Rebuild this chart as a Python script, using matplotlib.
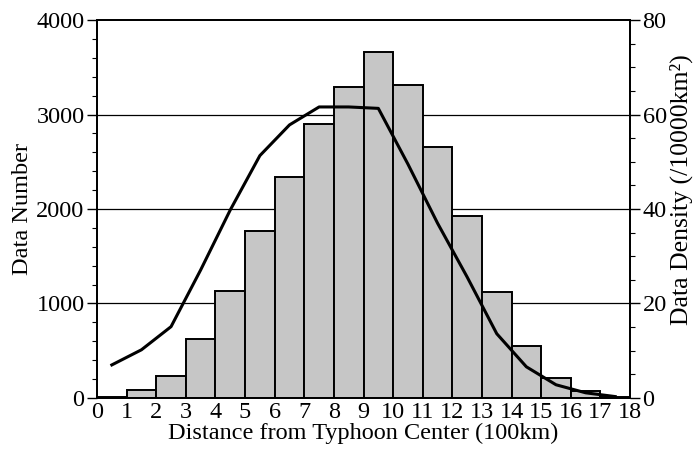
import numpy as np
import matplotlib.pyplot as plt
from matplotlib.ticker import MultipleLocator

plt.rcParams['font.family'] = ['Liberation Serif', 'DejaVu Serif']

# --- data ---
bin_left = np.arange(0, 18)
counts = [15, 85, 233, 625, 1132, 1767, 2338, 2900, 3291, 3665,
          3315, 2656, 1926, 1122, 550, 212, 74, 8]

dens_x = [0.5, 1.5, 2.5, 3.5, 4.5, 5.5, 6.5, 7.5, 8.5, 9.5,
          10.5, 11.5, 12.5, 13.5, 14.5, 15.5, 16.5, 17.5]
density = [7.0, 10.2, 15.1, 27.1, 39.8, 51.3, 57.8, 61.6, 61.6, 61.3,
           49.5, 37.0, 25.6, 13.6, 6.6, 2.8, 1.1, 0.3]

FS = 17.5

fig = plt.figure(figsize=(6.94, 4.55), dpi=100)
ax = fig.add_axes([0.1398, 0.1253, 0.7680, 0.8307])

for yv in [1000, 2000, 3000]:
    ax.axhline(yv, color='black', linewidth=0.9, zorder=0)

ax.bar(bin_left, counts, width=1.0, align='edge', color='#c6c6c6',
       edgecolor='black', linewidth=1.4, zorder=2)

ax.set_xlim(0, 18)
ax.set_ylim(0, 4000)
ax.set_xticks(range(0, 19))
ax.set_yticks([0, 1000, 2000, 3000, 4000])
ax.yaxis.set_minor_locator(MultipleLocator(200))
ax.tick_params(axis='y', which='major', length=7, width=1.0, labelsize=FS, pad=2)
ax.tick_params(axis='y', which='minor', length=3.5, width=0.8)
ax.tick_params(axis='x', length=0, labelsize=FS, pad=3)
ax.set_xlabel('Distance from Typhoon Center (100km)', fontsize=FS, labelpad=0)
ax.set_ylabel('Data Number', fontsize=FS, labelpad=2)
for s in ax.spines.values():
    s.set_linewidth(1.3)

ax2 = ax.twinx()
ax2.plot(dens_x, density, color='black', linewidth=2.2, zorder=3)
ax2.set_ylim(0, 80)
ax2.set_yticks([0, 20, 40, 60, 80])
ax2.yaxis.set_minor_locator(MultipleLocator(5))
ax2.tick_params(axis='y', which='major', length=7, width=1.0, labelsize=FS, pad=2)
ax2.tick_params(axis='y', which='minor', length=3.5, width=0.8)
for s in ax2.spines.values():
    s.set_linewidth(1.3)

fig.text(681 / 694, 1 - 190 / 455, 'Data Density (/10000km²)', rotation=90,
         ha='center', va='center', fontsize=18.5)

fig.savefig('out.png', dpi=100)
